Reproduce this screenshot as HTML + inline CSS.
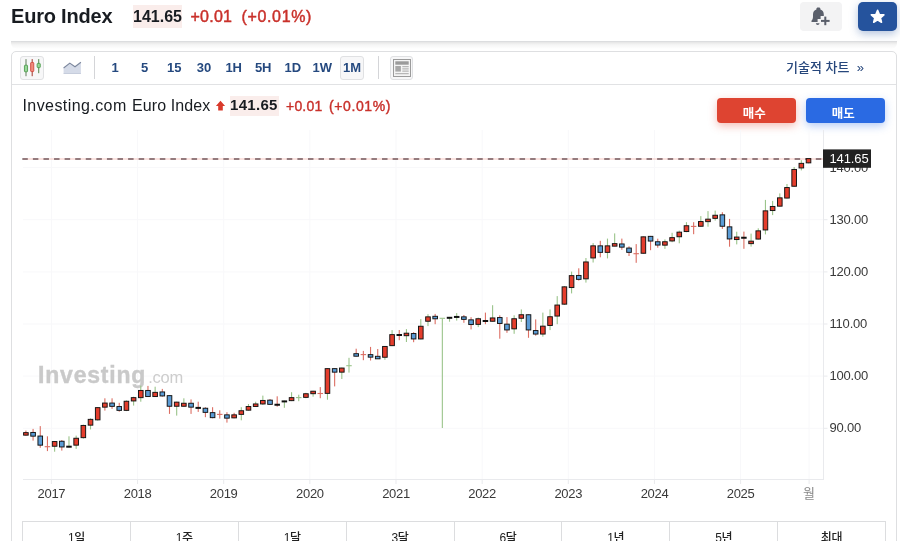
<!DOCTYPE html>
<html lang="ko">
<head>
<meta charset="utf-8">
<title>Euro Index</title>
<style>
*{box-sizing:border-box;margin:0;padding:0}
html,body{width:900px;height:541px;overflow:hidden;background:#fff}
body{position:relative;font-family:"Liberation Sans","Noto Sans CJK KR",sans-serif;color:#181c21}
.abs{position:absolute;white-space:nowrap}
.title{left:11px;top:4px;font-size:20px;line-height:24px;font-weight:bold;color:#181c21;letter-spacing:-0.2px}
.last{left:133px;top:5px;height:23px;font-size:16px;line-height:23px;font-weight:bold;background:#faedeb;color:#181c21}
.chg{top:5px;font-size:16px;line-height:23px;color:#c9312b;-webkit-text-stroke:0.45px #c9312b;letter-spacing:0.25px}
.btn-bell{left:800px;top:2px;width:42px;height:29px;border-radius:4px;background:#f3f3f4}
.btn-star{left:858px;top:2px;width:39px;height:29px;border-radius:5px;background:#25539d;box-shadow:0 3px 8px rgba(37,83,157,.35)}
.hline{left:11px;top:41px;width:886px;height:8px;border-top:1px solid #dcdddf;background:linear-gradient(to bottom,rgba(0,0,0,.10),rgba(0,0,0,.04) 40%,rgba(0,0,0,0) 100%);border-radius:0 0 6px 6px}
.box{left:11px;top:51px;width:886px;height:520px;border:1px solid #dedfe1;border-radius:5px;background:#fff}
.tb-line{left:12px;top:84px;width:884px;height:1px;background:#e1e2e4}
.ibtn{top:56px;height:24px;border:1px solid #e0e1e3;border-radius:3px;background:#f7f7f8}
.vsep{top:56px;width:1px;height:23px;background:#d4d5d8}
.tf{top:59px;font-size:13px;line-height:18px;font-weight:bold;color:#25497f;transform:translateX(-50%)}
.tech{left:786px;top:58px;font-size:13px;line-height:20px;color:#27477c;font-weight:500}
.lg{top:96px;font-size:16px;line-height:20px}
.lgp{left:230px;top:96px;width:48.5px;height:19.5px;background:#faedeb;font-size:15px;line-height:18px;font-weight:bold;padding-left:0px;color:#181c21;letter-spacing:0.3px}
.lgc{top:96px;font-size:14px;line-height:20px;color:#c9312b;-webkit-text-stroke:0.4px #c9312b;letter-spacing:0.2px}
.buy,.sell{top:98px;height:25px;border-radius:4px;color:#fff;font-size:12.5px;line-height:32.2px;text-align:center;font-weight:bold;padding-right:4.5px}
.buy{left:717px;width:79px;background:#de4431;box-shadow:0 3px 9px rgba(222,68,49,.35)}
.sell{left:806px;width:79px;background:#2a6ae3;box-shadow:0 3px 9px rgba(42,106,227,.35)}
.tabs{left:22px;top:521px;width:864px;height:40px;border:1px solid #dcdddf;display:flex}
.tabs div{flex:1;border-left:1px solid #dcdddf;font-size:12px;line-height:20px;padding-top:6px;text-align:center;color:#222;font-weight:500;letter-spacing:-0.3px}
.tabs div:first-child{border-left:none}
svg{position:absolute;left:0;top:0}
svg text{font-family:"Liberation Sans","Noto Sans CJK KR",sans-serif}
</style>
</head>
<body>
<div class="abs title">Euro Index</div>
<div class="abs last">141.65</div>
<div class="abs chg" style="left:190.5px">+0.01</div>
<div class="abs chg" style="left:241.5px;letter-spacing:0.65px">(+0.01%)</div>
<div class="abs btn-bell"></div>
<div class="abs btn-star"></div>
<div class="abs hline"></div>
<div class="abs box"></div>
<div class="abs tb-line"></div>
<div class="abs ibtn" style="left:20px;width:24px"></div>
<div class="abs vsep" style="left:94px"></div>
<div class="abs tf" style="left:115px">1</div>
<div class="abs tf" style="left:144.6px">5</div>
<div class="abs tf" style="left:174.3px">15</div>
<div class="abs tf" style="left:204px">30</div>
<div class="abs tf" style="left:233.7px">1H</div>
<div class="abs tf" style="left:263.2px">5H</div>
<div class="abs tf" style="left:292.8px">1D</div>
<div class="abs tf" style="left:322.3px">1W</div>
<div class="abs ibtn" style="left:340px;width:24px"></div>
<div class="abs tf" style="left:352px">1M</div>
<div class="abs vsep" style="left:378px"></div>
<div class="abs ibtn" style="left:390px;width:23px"></div>
<div class="abs tech">기술적 차트 &nbsp;»</div>
<div class="abs lg" style="left:22.5px;letter-spacing:0.42px">Investing.com</div>
<div class="abs lg" style="left:132px;letter-spacing:0.1px">Euro Index</div>
<div class="abs lgp">141.65</div>
<div class="abs lgc" style="left:286px">+0.01</div>
<div class="abs lgc" style="left:329px;letter-spacing:0.6px">(+0.01%)</div>
<div class="abs buy">매수</div>
<div class="abs sell">매도</div>
<div class="abs tabs"><div>1일</div><div>1주</div><div>1달</div><div>3달</div><div>6달</div><div>1년</div><div>5년</div><div>최대</div></div>
<svg width="900" height="541" viewBox="0 0 900 541">
<rect x="25.45" y="59.1" width="1.1" height="17.1" fill="#6f8a6a"/><rect x="24.45" y="65.2" width="3.1" height="6.6" rx="0.6" fill="#98d698" stroke="#4f9d4f" stroke-width="0.9"/>
<rect x="31.650000000000002" y="59.1" width="1.1" height="17.1" fill="#a8483e"/><rect x="30.650000000000002" y="62.5" width="3.1" height="9.0" rx="0.6" fill="#f28b7e" stroke="#cf4a3e" stroke-width="0.9"/>
<rect x="38.150000000000006" y="59.1" width="1.1" height="14.1" fill="#5f8f5a"/><rect x="37.150000000000006" y="63.4" width="3.1" height="4.2" rx="0.6" fill="#98d698" stroke="#4f9d4f" stroke-width="0.9"/>
<path d="M63.6 73.8 L63.6 68 L69.8 63.1 L75 66.7 L80.9 62.2 L80.9 73.8 Z" fill="#d5dbe8"/><rect x="63.6" y="73" width="17.3" height="0.9" fill="#c3cadb"/>
<path d="M63.6 68 L69.8 63.1 L75 66.7 L80.9 62.2" fill="none" stroke="#7d889e" stroke-width="1.15"/>
<rect x="393.5" y="59.5" width="17" height="17" fill="#f4f4f4" stroke="#9b9b9b" stroke-width="1"/>
<rect x="395.3" y="61.3" width="13.4" height="3.4" fill="#9b9b9b"/>
<rect x="395.3" y="66" width="5.6" height="5.6" fill="#a8a8a8"/>
<rect x="402.3" y="66.2" width="6.4" height="1" fill="#a8a8a8"/>
<rect x="402.3" y="68.4" width="6.4" height="1" fill="#a8a8a8"/>
<rect x="402.3" y="70.6" width="6.4" height="1" fill="#a8a8a8"/>
<rect x="395.3" y="73.2" width="13.4" height="1" fill="#a8a8a8"/>
<g fill="#5a5f6b"><path d="M818.9 7.6 c0.9 0 1.5 0.6 1.5 1.4 v0.5 c2.2 0.7 3.4 2.6 3.4 5 v1.6 h-3.2 v3 h-3 v2.9 h-5.6 c-0.6 0 -0.9 -0.7 -0.5 -1.2 c0.9 -1.1 1.5 -2 1.5 -4.3 v-2 c0 -2.4 1.2 -4.3 3.4 -5 v-0.5 c0 -0.8 0.6 -1.4 1.5 -1.4 z"/><path d="M815.9 23.2 h3.6 c-0.1 1 -0.8 1.7 -1.8 1.7 s-1.7 -0.7 -1.8 -1.7 z"/><rect x="824.3" y="16.6" width="2" height="8.6"/><rect x="821" y="19.9" width="8.6" height="2"/></g>
<polygon points="877.60,10.30 879.36,14.47 883.88,14.86 880.45,17.83 881.48,22.24 877.60,19.90 873.72,22.24 874.75,17.83 871.32,14.86 875.84,14.47" fill="#fff" stroke="#fff" stroke-width="1.6" stroke-linejoin="round"/>
<path d="M220.5 100.7 L225.1 106 L222.8 106 L222.8 110.5 L218.2 110.5 L218.2 106 L215.9 106 Z" fill="#d93a2b"/>
<rect x="23" y="167.1" width="800.5" height="1" fill="#f8f8fa"/>
<rect x="823.5" y="167.1" width="4" height="1" fill="#e9eaed"/>
<rect x="23" y="219.2" width="800.5" height="1" fill="#f8f8fa"/>
<rect x="823.5" y="219.2" width="4" height="1" fill="#e9eaed"/>
<rect x="23" y="271.4" width="800.5" height="1" fill="#f8f8fa"/>
<rect x="823.5" y="271.4" width="4" height="1" fill="#e9eaed"/>
<rect x="23" y="323.5" width="800.5" height="1" fill="#f8f8fa"/>
<rect x="823.5" y="323.5" width="4" height="1" fill="#e9eaed"/>
<rect x="23" y="375.6" width="800.5" height="1" fill="#f8f8fa"/>
<rect x="823.5" y="375.6" width="4" height="1" fill="#e9eaed"/>
<rect x="23" y="427.8" width="800.5" height="1" fill="#f8f8fa"/>
<rect x="823.5" y="427.8" width="4" height="1" fill="#e9eaed"/>
<rect x="50.90" y="130" width="1" height="349" fill="#f8f8fa"/>
<rect x="50.90" y="479" width="1" height="5" fill="#e9eaed"/>
<rect x="137.05" y="130" width="1" height="349" fill="#f8f8fa"/>
<rect x="137.05" y="479" width="1" height="5" fill="#e9eaed"/>
<rect x="223.20" y="130" width="1" height="349" fill="#f8f8fa"/>
<rect x="223.20" y="479" width="1" height="5" fill="#e9eaed"/>
<rect x="309.35" y="130" width="1" height="349" fill="#f8f8fa"/>
<rect x="309.35" y="479" width="1" height="5" fill="#e9eaed"/>
<rect x="395.50" y="130" width="1" height="349" fill="#f8f8fa"/>
<rect x="395.50" y="479" width="1" height="5" fill="#e9eaed"/>
<rect x="481.65" y="130" width="1" height="349" fill="#f8f8fa"/>
<rect x="481.65" y="479" width="1" height="5" fill="#e9eaed"/>
<rect x="567.80" y="130" width="1" height="349" fill="#f8f8fa"/>
<rect x="567.80" y="479" width="1" height="5" fill="#e9eaed"/>
<rect x="653.95" y="130" width="1" height="349" fill="#f8f8fa"/>
<rect x="653.95" y="479" width="1" height="5" fill="#e9eaed"/>
<rect x="740.10" y="130" width="1" height="349" fill="#f8f8fa"/>
<rect x="740.10" y="479" width="1" height="5" fill="#e9eaed"/>
<rect x="808.60" y="130" width="1" height="349" fill="#f8f8fa"/>
<rect x="808.60" y="479" width="1" height="5" fill="#e9eaed"/>
<rect x="823" y="130" width="1" height="350" fill="#e9eaed"/>
<rect x="23" y="479" width="801" height="1" fill="#e9eaed"/>
<text x="38" y="383.4" font-size="23" font-weight="bold" fill="#c9c9c9" stroke="#c9c9c9" stroke-width="0.4" letter-spacing="0.8">Investing</text>
<text x="148.3" y="383.4" font-size="16.5" fill="#cdcdcd" letter-spacing="-0.3">.com</text>
<rect x="23" y="158.55" width="800" height="0.9" fill="#f5c2bb"/>
<line x1="22.3" y1="159.0" x2="823" y2="159.0" stroke="#73595d" stroke-width="1.6" stroke-dasharray="5.5 5.08"/>
<rect x="25.35" y="430.6" width="1.1" height="5.0" fill="#dc6f64"/>
<rect x="23.60" y="432.65" width="4.6" height="2.50" fill="#e43d2c" stroke="#111" stroke-width="0.95"/>
<rect x="32.53" y="428.9" width="1.1" height="11.7" fill="#dc6f64"/>
<rect x="30.78" y="432.45" width="4.6" height="3.70" fill="#5b9cd6" stroke="#111" stroke-width="0.95"/>
<rect x="39.71" y="426.1" width="1.1" height="21.7" fill="#dc6f64"/>
<rect x="37.96" y="436.05" width="4.6" height="9.10" fill="#5b9cd6" stroke="#111" stroke-width="0.95"/>
<rect x="46.89" y="436.3" width="1.1" height="14.8" fill="#dc6f64"/>
<rect x="44.69" y="446.15" width="5.5" height="1.1" fill="#dc6f64"/>
<rect x="54.07" y="441.0" width="1.1" height="10.7" fill="#9bc48b"/>
<rect x="52.32" y="441.55" width="4.6" height="4.70" fill="#e43d2c" stroke="#111" stroke-width="0.95"/>
<rect x="61.25" y="440.0" width="1.1" height="10.6" fill="#dc6f64"/>
<rect x="59.50" y="441.25" width="4.6" height="5.70" fill="#5b9cd6" stroke="#111" stroke-width="0.95"/>
<rect x="68.43" y="436.3" width="1.1" height="11.1" fill="#9bc48b"/>
<rect x="66.23" y="445.70" width="5.5" height="2.00" fill="#111"/>
<rect x="75.61" y="435.6" width="1.1" height="13.3" fill="#9bc48b"/>
<rect x="73.86" y="438.25" width="4.6" height="6.90" fill="#e43d2c" stroke="#111" stroke-width="0.95"/>
<rect x="82.79" y="424.6" width="1.1" height="14.0" fill="#9bc48b"/>
<rect x="81.04" y="425.45" width="4.6" height="12.20" fill="#e43d2c" stroke="#111" stroke-width="0.95"/>
<rect x="89.97" y="418.3" width="1.1" height="11.1" fill="#9bc48b"/>
<rect x="88.22" y="419.35" width="4.6" height="5.80" fill="#e43d2c" stroke="#111" stroke-width="0.95"/>
<rect x="97.15" y="407.0" width="1.1" height="13.6" fill="#9bc48b"/>
<rect x="95.40" y="407.65" width="4.6" height="12.20" fill="#e43d2c" stroke="#111" stroke-width="0.95"/>
<rect x="104.33" y="398.3" width="1.1" height="12.3" fill="#dc6f64"/>
<rect x="102.58" y="403.05" width="4.6" height="4.10" fill="#e43d2c" stroke="#111" stroke-width="0.95"/>
<rect x="111.51" y="398.3" width="1.1" height="10.6" fill="#dc6f64"/>
<rect x="109.76" y="403.05" width="4.6" height="3.30" fill="#5b9cd6" stroke="#111" stroke-width="0.95"/>
<rect x="118.69" y="402.8" width="1.1" height="8.9" fill="#dc6f64"/>
<rect x="116.94" y="406.55" width="4.6" height="3.80" fill="#5b9cd6" stroke="#111" stroke-width="0.95"/>
<rect x="125.87" y="400.4" width="1.1" height="10.7" fill="#9bc48b"/>
<rect x="124.12" y="401.25" width="4.6" height="9.10" fill="#e43d2c" stroke="#111" stroke-width="0.95"/>
<rect x="133.05" y="396.7" width="1.1" height="8.9" fill="#9bc48b"/>
<rect x="131.30" y="397.65" width="4.6" height="3.30" fill="#e43d2c" stroke="#111" stroke-width="0.95"/>
<rect x="140.23" y="385.6" width="1.1" height="16.1" fill="#9bc48b"/>
<rect x="138.48" y="390.45" width="4.6" height="7.20" fill="#e43d2c" stroke="#111" stroke-width="0.95"/>
<rect x="147.41" y="385.9" width="1.1" height="11.1" fill="#dc6f64"/>
<rect x="145.66" y="390.45" width="4.6" height="6.10" fill="#5b9cd6" stroke="#111" stroke-width="0.95"/>
<rect x="154.59" y="386.7" width="1.1" height="10.3" fill="#9bc48b"/>
<rect x="152.84" y="392.35" width="4.6" height="4.20" fill="#e43d2c" stroke="#111" stroke-width="0.95"/>
<rect x="161.77" y="388.9" width="1.1" height="7.8" fill="#dc6f64"/>
<rect x="160.02" y="391.95" width="4.6" height="4.00" fill="#5b9cd6" stroke="#111" stroke-width="0.95"/>
<rect x="168.95" y="395.2" width="1.1" height="18.7" fill="#dc6f64"/>
<rect x="167.20" y="395.65" width="4.6" height="10.60" fill="#5b9cd6" stroke="#111" stroke-width="0.95"/>
<rect x="176.13" y="401.7" width="1.1" height="13.9" fill="#9bc48b"/>
<rect x="174.38" y="402.15" width="4.6" height="4.10" fill="#e43d2c" stroke="#111" stroke-width="0.95"/>
<rect x="183.31" y="398.3" width="1.1" height="8.4" fill="#9bc48b"/>
<rect x="181.56" y="403.25" width="4.6" height="3.00" fill="#e43d2c" stroke="#111" stroke-width="0.95"/>
<rect x="190.49" y="399.4" width="1.1" height="14.5" fill="#dc6f64"/>
<rect x="188.74" y="403.25" width="4.6" height="3.90" fill="#5b9cd6" stroke="#111" stroke-width="0.95"/>
<rect x="197.67" y="401.7" width="1.1" height="10.2" fill="#dc6f64"/>
<rect x="195.47" y="406.90" width="5.5" height="2.00" fill="#111"/>
<rect x="204.85" y="407.2" width="1.1" height="10.0" fill="#dc6f64"/>
<rect x="203.10" y="408.25" width="4.6" height="4.10" fill="#5b9cd6" stroke="#111" stroke-width="0.95"/>
<rect x="212.03" y="407.2" width="1.1" height="11.1" fill="#dc6f64"/>
<rect x="210.28" y="412.65" width="4.6" height="5.00" fill="#5b9cd6" stroke="#111" stroke-width="0.95"/>
<rect x="219.21" y="410.3" width="1.1" height="8.3" fill="#dc6f64"/>
<rect x="217.01" y="413.85" width="5.5" height="1.1" fill="#dc6f64"/>
<rect x="226.39" y="412.2" width="1.1" height="10.4" fill="#dc6f64"/>
<rect x="224.64" y="414.85" width="4.6" height="3.30" fill="#5b9cd6" stroke="#111" stroke-width="0.95"/>
<rect x="233.57" y="412.8" width="1.1" height="5.5" fill="#dc6f64"/>
<rect x="231.82" y="414.85" width="4.6" height="3.00" fill="#e43d2c" stroke="#111" stroke-width="0.95"/>
<rect x="240.75" y="407.2" width="1.1" height="13.1" fill="#9bc48b"/>
<rect x="239.00" y="410.75" width="4.6" height="3.60" fill="#e43d2c" stroke="#111" stroke-width="0.95"/>
<rect x="247.93" y="404.0" width="1.1" height="6.6" fill="#9bc48b"/>
<rect x="246.18" y="406.55" width="4.6" height="3.60" fill="#e43d2c" stroke="#111" stroke-width="0.95"/>
<rect x="255.11" y="401.7" width="1.1" height="5.0" fill="#9bc48b"/>
<rect x="253.36" y="403.95" width="4.6" height="2.50" fill="#e43d2c" stroke="#111" stroke-width="0.95"/>
<rect x="262.29" y="395.6" width="1.1" height="9.4" fill="#9bc48b"/>
<rect x="260.54" y="400.45" width="4.6" height="3.50" fill="#e43d2c" stroke="#111" stroke-width="0.95"/>
<rect x="269.47" y="399.0" width="1.1" height="6.0" fill="#dc6f64"/>
<rect x="267.72" y="400.15" width="4.6" height="4.20" fill="#5b9cd6" stroke="#111" stroke-width="0.95"/>
<rect x="276.65" y="396.3" width="1.1" height="10.4" fill="#dc6f64"/>
<rect x="274.45" y="403.75" width="5.5" height="2.00" fill="#111"/>
<rect x="283.83" y="400.6" width="1.1" height="7.2" fill="#9bc48b"/>
<rect x="281.63" y="400.40" width="5.5" height="2.00" fill="#111"/>
<rect x="291.01" y="392.2" width="1.1" height="8.9" fill="#9bc48b"/>
<rect x="289.26" y="397.65" width="4.6" height="3.00" fill="#e43d2c" stroke="#111" stroke-width="0.95"/>
<rect x="298.19" y="394.7" width="1.1" height="6.5" fill="#9bc48b"/>
<rect x="295.99" y="397.05" width="5.5" height="1.1" fill="#9bc48b"/>
<rect x="305.37" y="392.8" width="1.1" height="5.4" fill="#9bc48b"/>
<rect x="303.62" y="393.75" width="4.6" height="3.60" fill="#e43d2c" stroke="#111" stroke-width="0.95"/>
<rect x="312.55" y="390.8" width="1.1" height="5.9" fill="#9bc48b"/>
<rect x="310.80" y="391.20" width="4.6" height="2.50" fill="#e43d2c" stroke="#111" stroke-width="0.95"/>
<rect x="319.73" y="387.1" width="1.1" height="11.1" fill="#dc6f64"/>
<rect x="317.53" y="392.95" width="5.5" height="1.1" fill="#dc6f64"/>
<rect x="326.91" y="368.2" width="1.1" height="31.5" fill="#9bc48b"/>
<rect x="325.16" y="368.65" width="4.6" height="24.70" fill="#e43d2c" stroke="#111" stroke-width="0.95"/>
<rect x="334.09" y="368.2" width="1.1" height="18.2" fill="#dc6f64"/>
<rect x="332.34" y="368.65" width="4.6" height="3.50" fill="#5b9cd6" stroke="#111" stroke-width="0.95"/>
<rect x="341.27" y="367.6" width="1.1" height="11.4" fill="#9bc48b"/>
<rect x="339.52" y="368.05" width="4.6" height="4.10" fill="#e43d2c" stroke="#111" stroke-width="0.95"/>
<rect x="348.45" y="357.8" width="1.1" height="14.8" fill="#9bc48b"/>
<rect x="346.25" y="365.15" width="5.5" height="1.1" fill="#9bc48b"/>
<rect x="355.63" y="348.7" width="1.1" height="7.8" fill="#dc6f64"/>
<rect x="353.88" y="353.70" width="4.6" height="2.50" fill="#5b9cd6" stroke="#111" stroke-width="0.95"/>
<rect x="362.81" y="350.9" width="1.1" height="9.3" fill="#dc6f64"/>
<rect x="360.61" y="354.05" width="5.5" height="1.1" fill="#dc6f64"/>
<rect x="369.99" y="346.9" width="1.1" height="13.6" fill="#dc6f64"/>
<rect x="368.24" y="354.65" width="4.6" height="2.50" fill="#5b9cd6" stroke="#111" stroke-width="0.95"/>
<rect x="377.17" y="349.0" width="1.1" height="9.7" fill="#dc6f64"/>
<rect x="375.42" y="356.30" width="4.6" height="2.50" fill="#5b9cd6" stroke="#111" stroke-width="0.95"/>
<rect x="384.35" y="346.0" width="1.1" height="13.8" fill="#9bc48b"/>
<rect x="382.60" y="346.45" width="4.6" height="10.80" fill="#e43d2c" stroke="#111" stroke-width="0.95"/>
<rect x="391.53" y="330.1" width="1.1" height="16.0" fill="#9bc48b"/>
<rect x="389.78" y="334.65" width="4.6" height="11.00" fill="#e43d2c" stroke="#111" stroke-width="0.95"/>
<rect x="398.71" y="330.0" width="1.1" height="10.2" fill="#dc6f64"/>
<rect x="396.51" y="334.00" width="5.5" height="2.00" fill="#111"/>
<rect x="405.89" y="329.1" width="1.1" height="12.9" fill="#9bc48b"/>
<rect x="404.14" y="333.20" width="4.6" height="2.50" fill="#e43d2c" stroke="#111" stroke-width="0.95"/>
<rect x="413.07" y="332.2" width="1.1" height="10.0" fill="#dc6f64"/>
<rect x="411.32" y="333.55" width="4.6" height="5.40" fill="#5b9cd6" stroke="#111" stroke-width="0.95"/>
<rect x="420.25" y="319.1" width="1.1" height="20.3" fill="#9bc48b"/>
<rect x="418.50" y="326.25" width="4.6" height="12.70" fill="#e43d2c" stroke="#111" stroke-width="0.95"/>
<rect x="427.43" y="314.2" width="1.1" height="11.9" fill="#9bc48b"/>
<rect x="425.68" y="316.85" width="4.6" height="4.40" fill="#e43d2c" stroke="#111" stroke-width="0.95"/>
<rect x="434.61" y="313.9" width="1.1" height="10.3" fill="#dc6f64"/>
<rect x="432.86" y="316.30" width="4.6" height="2.50" fill="#5b9cd6" stroke="#111" stroke-width="0.95"/>
<rect x="441.79" y="318.3" width="1.1" height="109.7" fill="#9bc48b"/>
<rect x="439.59" y="317.75" width="5.5" height="1.1" fill="#9bc48b"/>
<rect x="448.97" y="316.9" width="1.1" height="4.8" fill="#9bc48b"/>
<rect x="446.77" y="316.80" width="5.5" height="2.00" fill="#111"/>
<rect x="456.15" y="313.1" width="1.1" height="7.5" fill="#9bc48b"/>
<rect x="453.95" y="315.95" width="5.5" height="2.00" fill="#111"/>
<rect x="463.33" y="315.0" width="1.1" height="7.8" fill="#dc6f64"/>
<rect x="461.58" y="316.85" width="4.6" height="2.50" fill="#5b9cd6" stroke="#111" stroke-width="0.95"/>
<rect x="470.51" y="317.2" width="1.1" height="12.2" fill="#dc6f64"/>
<rect x="468.76" y="319.85" width="4.6" height="4.70" fill="#5b9cd6" stroke="#111" stroke-width="0.95"/>
<rect x="477.69" y="317.6" width="1.1" height="9.5" fill="#9bc48b"/>
<rect x="475.94" y="318.75" width="4.6" height="5.60" fill="#e43d2c" stroke="#111" stroke-width="0.95"/>
<rect x="484.87" y="312.6" width="1.1" height="11.6" fill="#dc6f64"/>
<rect x="482.67" y="320.00" width="5.5" height="2.00" fill="#111"/>
<rect x="492.05" y="305.2" width="1.1" height="16.5" fill="#9bc48b"/>
<rect x="490.30" y="317.95" width="4.6" height="3.30" fill="#e43d2c" stroke="#111" stroke-width="0.95"/>
<rect x="499.23" y="315.3" width="1.1" height="23.4" fill="#dc6f64"/>
<rect x="497.48" y="317.55" width="4.6" height="5.90" fill="#5b9cd6" stroke="#111" stroke-width="0.95"/>
<rect x="506.41" y="317.1" width="1.1" height="15.7" fill="#dc6f64"/>
<rect x="504.66" y="324.15" width="4.6" height="5.80" fill="#5b9cd6" stroke="#111" stroke-width="0.95"/>
<rect x="513.59" y="315.3" width="1.1" height="18.5" fill="#9bc48b"/>
<rect x="511.84" y="318.75" width="4.6" height="10.10" fill="#e43d2c" stroke="#111" stroke-width="0.95"/>
<rect x="520.77" y="309.4" width="1.1" height="12.6" fill="#9bc48b"/>
<rect x="519.02" y="314.75" width="4.6" height="3.50" fill="#e43d2c" stroke="#111" stroke-width="0.95"/>
<rect x="527.95" y="314.3" width="1.1" height="23.5" fill="#dc6f64"/>
<rect x="526.20" y="314.75" width="4.6" height="15.20" fill="#5b9cd6" stroke="#111" stroke-width="0.95"/>
<rect x="535.13" y="319.4" width="1.1" height="16.3" fill="#dc6f64"/>
<rect x="533.38" y="330.55" width="4.6" height="3.50" fill="#5b9cd6" stroke="#111" stroke-width="0.95"/>
<rect x="542.31" y="312.6" width="1.1" height="24.1" fill="#9bc48b"/>
<rect x="540.56" y="326.15" width="4.6" height="7.90" fill="#e43d2c" stroke="#111" stroke-width="0.95"/>
<rect x="549.49" y="309.4" width="1.1" height="20.7" fill="#9bc48b"/>
<rect x="547.74" y="316.75" width="4.6" height="8.70" fill="#e43d2c" stroke="#111" stroke-width="0.95"/>
<rect x="556.67" y="296.1" width="1.1" height="28.1" fill="#9bc48b"/>
<rect x="554.92" y="305.05" width="4.6" height="11.00" fill="#e43d2c" stroke="#111" stroke-width="0.95"/>
<rect x="563.85" y="286.0" width="1.1" height="19.0" fill="#9bc48b"/>
<rect x="562.10" y="286.85" width="4.6" height="17.30" fill="#e43d2c" stroke="#111" stroke-width="0.95"/>
<rect x="571.03" y="271.6" width="1.1" height="21.8" fill="#9bc48b"/>
<rect x="569.28" y="275.65" width="4.6" height="11.90" fill="#e43d2c" stroke="#111" stroke-width="0.95"/>
<rect x="578.21" y="268.3" width="1.1" height="12.3" fill="#dc6f64"/>
<rect x="576.46" y="275.45" width="4.6" height="3.90" fill="#5b9cd6" stroke="#111" stroke-width="0.95"/>
<rect x="585.39" y="258.0" width="1.1" height="24.6" fill="#9bc48b"/>
<rect x="583.64" y="261.95" width="4.6" height="16.90" fill="#e43d2c" stroke="#111" stroke-width="0.95"/>
<rect x="592.57" y="243.1" width="1.1" height="19.4" fill="#9bc48b"/>
<rect x="590.82" y="245.85" width="4.6" height="12.10" fill="#e43d2c" stroke="#111" stroke-width="0.95"/>
<rect x="599.75" y="240.8" width="1.1" height="16.5" fill="#dc6f64"/>
<rect x="598.00" y="245.85" width="4.6" height="6.50" fill="#5b9cd6" stroke="#111" stroke-width="0.95"/>
<rect x="606.93" y="238.6" width="1.1" height="19.8" fill="#9bc48b"/>
<rect x="605.18" y="245.85" width="4.6" height="6.50" fill="#e43d2c" stroke="#111" stroke-width="0.95"/>
<rect x="614.11" y="233.4" width="1.1" height="12.9" fill="#9bc48b"/>
<rect x="612.36" y="243.65" width="4.6" height="2.50" fill="#e43d2c" stroke="#111" stroke-width="0.95"/>
<rect x="621.29" y="238.6" width="1.1" height="11.2" fill="#dc6f64"/>
<rect x="619.54" y="243.95" width="4.6" height="3.20" fill="#5b9cd6" stroke="#111" stroke-width="0.95"/>
<rect x="628.47" y="246.3" width="1.1" height="9.7" fill="#dc6f64"/>
<rect x="626.72" y="248.05" width="4.6" height="4.30" fill="#5b9cd6" stroke="#111" stroke-width="0.95"/>
<rect x="635.65" y="244.1" width="1.1" height="18.7" fill="#dc6f64"/>
<rect x="633.45" y="253.15" width="5.5" height="1.1" fill="#dc6f64"/>
<rect x="642.83" y="236.4" width="1.1" height="17.3" fill="#9bc48b"/>
<rect x="641.08" y="236.85" width="4.6" height="16.40" fill="#e43d2c" stroke="#111" stroke-width="0.95"/>
<rect x="650.01" y="235.9" width="1.1" height="14.3" fill="#dc6f64"/>
<rect x="648.26" y="236.35" width="4.6" height="4.70" fill="#5b9cd6" stroke="#111" stroke-width="0.95"/>
<rect x="657.19" y="238.7" width="1.1" height="9.0" fill="#dc6f64"/>
<rect x="655.44" y="241.75" width="4.6" height="3.30" fill="#5b9cd6" stroke="#111" stroke-width="0.95"/>
<rect x="664.37" y="239.4" width="1.1" height="9.5" fill="#9bc48b"/>
<rect x="662.62" y="241.75" width="4.6" height="3.40" fill="#e43d2c" stroke="#111" stroke-width="0.95"/>
<rect x="671.55" y="232.8" width="1.1" height="9.4" fill="#9bc48b"/>
<rect x="669.80" y="237.65" width="4.6" height="3.30" fill="#e43d2c" stroke="#111" stroke-width="0.95"/>
<rect x="678.73" y="230.6" width="1.1" height="12.7" fill="#9bc48b"/>
<rect x="676.98" y="232.15" width="4.6" height="4.60" fill="#e43d2c" stroke="#111" stroke-width="0.95"/>
<rect x="685.91" y="222.2" width="1.1" height="10.0" fill="#9bc48b"/>
<rect x="684.16" y="225.75" width="4.6" height="5.80" fill="#e43d2c" stroke="#111" stroke-width="0.95"/>
<rect x="693.09" y="222.2" width="1.1" height="12.0" fill="#dc6f64"/>
<rect x="690.89" y="225.85" width="5.5" height="1.1" fill="#dc6f64"/>
<rect x="700.27" y="216.1" width="1.1" height="10.6" fill="#9bc48b"/>
<rect x="698.52" y="221.55" width="4.6" height="4.70" fill="#e43d2c" stroke="#111" stroke-width="0.95"/>
<rect x="707.45" y="211.1" width="1.1" height="15.6" fill="#9bc48b"/>
<rect x="705.70" y="219.15" width="4.6" height="2.50" fill="#e43d2c" stroke="#111" stroke-width="0.95"/>
<rect x="714.63" y="210.6" width="1.1" height="10.0" fill="#9bc48b"/>
<rect x="712.88" y="215.25" width="4.6" height="3.10" fill="#e43d2c" stroke="#111" stroke-width="0.95"/>
<rect x="721.81" y="212.2" width="1.1" height="16.7" fill="#dc6f64"/>
<rect x="720.06" y="214.85" width="4.6" height="11.40" fill="#5b9cd6" stroke="#111" stroke-width="0.95"/>
<rect x="728.99" y="218.9" width="1.1" height="27.8" fill="#dc6f64"/>
<rect x="727.24" y="226.85" width="4.6" height="12.10" fill="#5b9cd6" stroke="#111" stroke-width="0.95"/>
<rect x="736.17" y="231.7" width="1.1" height="12.7" fill="#9bc48b"/>
<rect x="734.42" y="237.05" width="4.6" height="2.50" fill="#e43d2c" stroke="#111" stroke-width="0.95"/>
<rect x="743.35" y="231.6" width="1.1" height="17.2" fill="#dc6f64"/>
<rect x="741.15" y="236.75" width="5.5" height="2.00" fill="#111"/>
<rect x="750.53" y="233.6" width="1.1" height="13.0" fill="#9bc48b"/>
<rect x="748.78" y="241.15" width="4.6" height="2.50" fill="#e43d2c" stroke="#111" stroke-width="0.95"/>
<rect x="757.71" y="228.3" width="1.1" height="11.2" fill="#9bc48b"/>
<rect x="755.96" y="230.85" width="4.6" height="8.20" fill="#e43d2c" stroke="#111" stroke-width="0.95"/>
<rect x="764.89" y="199.9" width="1.1" height="34.5" fill="#9bc48b"/>
<rect x="763.14" y="210.85" width="4.6" height="19.10" fill="#e43d2c" stroke="#111" stroke-width="0.95"/>
<rect x="772.07" y="200.9" width="1.1" height="14.2" fill="#9bc48b"/>
<rect x="770.32" y="206.45" width="4.6" height="4.10" fill="#e43d2c" stroke="#111" stroke-width="0.95"/>
<rect x="779.25" y="193.4" width="1.1" height="13.2" fill="#9bc48b"/>
<rect x="777.50" y="197.85" width="4.6" height="8.30" fill="#e43d2c" stroke="#111" stroke-width="0.95"/>
<rect x="786.43" y="184.0" width="1.1" height="14.5" fill="#9bc48b"/>
<rect x="784.68" y="187.55" width="4.6" height="10.50" fill="#e43d2c" stroke="#111" stroke-width="0.95"/>
<rect x="793.61" y="167.0" width="1.1" height="19.7" fill="#9bc48b"/>
<rect x="791.86" y="169.45" width="4.6" height="16.80" fill="#e43d2c" stroke="#111" stroke-width="0.95"/>
<rect x="800.79" y="160.2" width="1.1" height="10.2" fill="#9bc48b"/>
<rect x="799.04" y="163.35" width="4.6" height="4.60" fill="#e43d2c" stroke="#111" stroke-width="0.95"/>
<rect x="807.97" y="158.2" width="1.1" height="5.1" fill="#9bc48b"/>
<rect x="806.22" y="158.65" width="4.6" height="4.20" fill="#e43d2c" stroke="#111" stroke-width="0.95"/>
<text x="829.5" y="171.5" font-size="13" fill="#393939" letter-spacing="-0.2">140.00</text>
<text x="829.5" y="223.6" font-size="13" fill="#393939" letter-spacing="-0.2">130.00</text>
<text x="829.5" y="275.8" font-size="13" fill="#393939" letter-spacing="-0.2">120.00</text>
<text x="829.5" y="327.9" font-size="13" fill="#393939" letter-spacing="-0.2">110.00</text>
<text x="829.5" y="380.0" font-size="13" fill="#393939" letter-spacing="-0.2">100.00</text>
<text x="829.5" y="432.2" font-size="13" fill="#393939" letter-spacing="-0.2">90.00</text>
<text x="51.4" y="497.5" font-size="13" fill="#393939" text-anchor="middle" letter-spacing="-0.3">2017</text>
<text x="137.6" y="497.5" font-size="13" fill="#393939" text-anchor="middle" letter-spacing="-0.3">2018</text>
<text x="223.7" y="497.5" font-size="13" fill="#393939" text-anchor="middle" letter-spacing="-0.3">2019</text>
<text x="309.9" y="497.5" font-size="13" fill="#393939" text-anchor="middle" letter-spacing="-0.3">2020</text>
<text x="396.0" y="497.5" font-size="13" fill="#393939" text-anchor="middle" letter-spacing="-0.3">2021</text>
<text x="482.1" y="497.5" font-size="13" fill="#393939" text-anchor="middle" letter-spacing="-0.3">2022</text>
<text x="568.3" y="497.5" font-size="13" fill="#393939" text-anchor="middle" letter-spacing="-0.3">2023</text>
<text x="654.5" y="497.5" font-size="13" fill="#393939" text-anchor="middle" letter-spacing="-0.3">2024</text>
<text x="740.6" y="497.5" font-size="13" fill="#393939" text-anchor="middle" letter-spacing="-0.3">2025</text>
<text x="809" y="497.6" font-size="13" fill="#8a8a8a" text-anchor="middle">월</text>
<rect x="823" y="149.4" width="48" height="18.4" fill="#222"/>
<text x="829.5" y="163.3" font-size="13" fill="#fff" letter-spacing="-0.12">141.65</text>
</svg>
</body>
</html>
